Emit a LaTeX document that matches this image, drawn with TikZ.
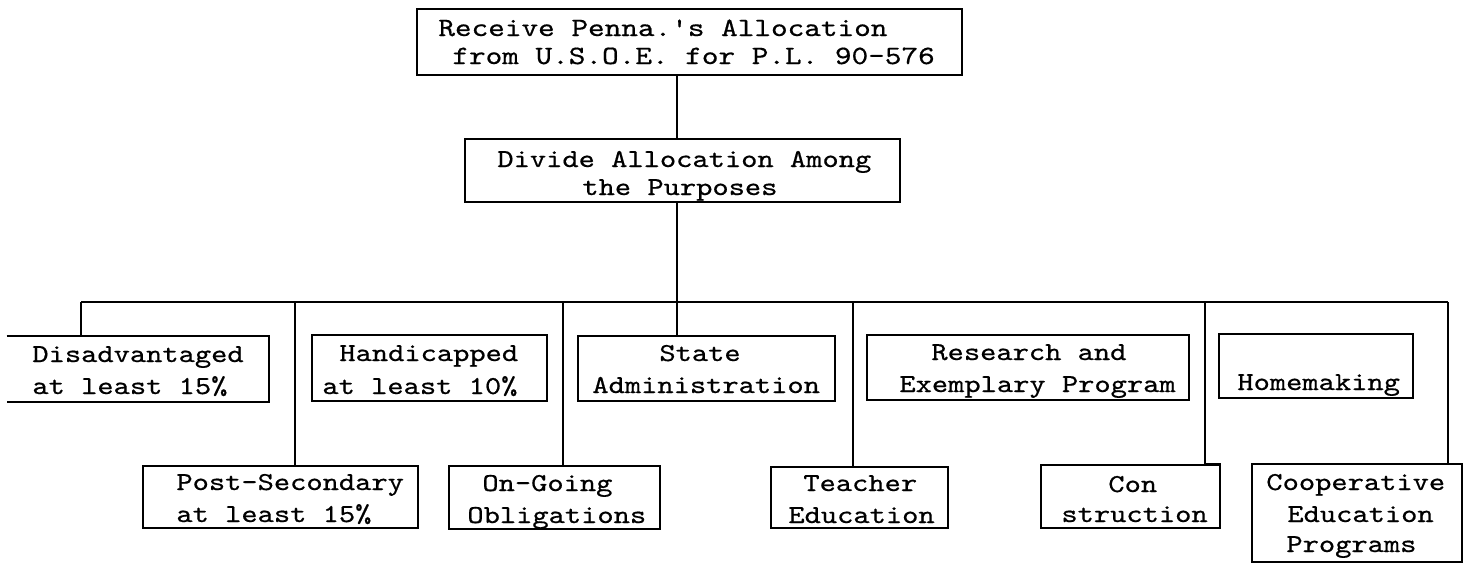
\documentclass[tikz,border=0pt]{standalone}
\usepackage{fontspec}
\setmonofont{lmmono10-regular.otf}[FakeStretch=1.2,FakeBold=0.6]
\usetikzlibrary{fit}
\begin{document}
\begin{tikzpicture}[x=0.5pt,y=-0.5pt,
  boxst/.style={draw, line width=1pt, inner sep=0pt},
  openbox/.style={draw=none, inner sep=0pt},
  lbl/.style={anchor=base west, inner sep=0pt, font=\ttfamily\fontsize{12.9}{16}\selectfont},
  biglbl/.style={lbl, font=\ttfamily\fontsize{13.2}{16}\selectfont},
  conn/.style={line width=1pt}]
\useasboundingbox (0,0) rectangle (1468,563);
% boxes
\node[boxst, fit={(417,9) (962,75)}] (top) {};
\node[boxst, fit={(465,139) (900,202)}] (div) {};
\node[openbox, fit={(7,336) (269,402)}] (dis) {};
\node[boxst, fit={(312,335) (547,401)}] (han) {};
\node[boxst, fit={(578,336) (835,401)}] (sta) {};
\node[boxst, fit={(867,335) (1189,400)}] (res) {};
\node[boxst, fit={(1219,334) (1413,398)}] (hom) {};
\node[boxst, fit={(143,466) (418,528)}] (pos) {};
\node[boxst, fit={(449,466) (660,529)}] (ong) {};
\node[boxst, fit={(771,467) (948,528)}] (tea) {};
\node[boxst, fit={(1041,465) (1220,528)}] (con) {};
\node[boxst, fit={(1252,464) (1462,562)}] (coo) {};
\draw[conn] (dis.north west) -- (dis.north east) -- (dis.south east) -- (dis.south west);
% texts
\node[biglbl] (top1) at (438,36) {Receive Penna.'s Allocation};
\node[biglbl] (top2) at (452,64) {from U.S.O.E. for P.L. 90-576};
\node[lbl] (div1) at (497,167) {Divide Allocation Among};
\node[lbl] (div2) at (582,195) {the Purposes};
\node[lbl] (dis1) at (32,362) {Disadvantaged};
\node[lbl] (dis2) at (32,394) {at least 15\%};
\node[lbl] (han1) at (339,361) {Handicapped};
\node[lbl] (han2) at (322,394) {at least 10\%};
\node[lbl] (sta1) at (659,361) {State};
\node[lbl] (sta2) at (592,393) {Administration};
\node[lbl] (res1) at (931,360) {Research and};
\node[lbl] (res2) at (899,392) {Exemplary Program};
\node[lbl] (hom1) at (1237,390) {Homemaking};
\node[lbl] (pos1) at (176,490) {Post-Secondary};
\node[lbl] (pos2) at (176,522) {at least 15\%};
\node[lbl] (ong1) at (482,491) {On-Going};
\node[lbl] (ong2) at (467,523) {Obligations};
\node[lbl] (tea1) at (803,491) {Teacher};
\node[lbl] (tea2) at (788,523) {Education};
\node[lbl] (con1) at (1108,492) {Con};
\node[lbl] (con2) at (1061,522) {struction};
\node[lbl] (coo1) at (1266,490) {Cooperative};
\node[lbl] (coo2) at (1287,522) {Education};
\node[lbl] (coo3) at (1286,552) {Programs};
% connectors
\coordinate (trunk) at (677,302);
\coordinate (busL) at (81,302);
\coordinate (busR) at (1448,302);
\coordinate (bPos) at (295,302);
\coordinate (bOng) at (563,302);
\coordinate (bTea) at (853,302);
\coordinate (bCon) at (1205,302);
\draw[conn] (top.south -| trunk) -- (div.north -| trunk);
\draw[conn] (div.south -| trunk) -- (sta.north -| trunk);
\draw[conn] (busL) -- (busR);
\draw[conn] (busL) -- (dis.north -| busL);
\draw[conn] (bPos) -- (pos.north -| bPos);
\draw[conn] (bOng) -- (ong.north -| bOng);
\draw[conn] (bTea) -- (tea.north -| bTea);
\draw[conn] (bCon) |- (con.north east);
\draw[conn] (busR) -- (coo.north -| busR);
\end{tikzpicture}
\end{document}
